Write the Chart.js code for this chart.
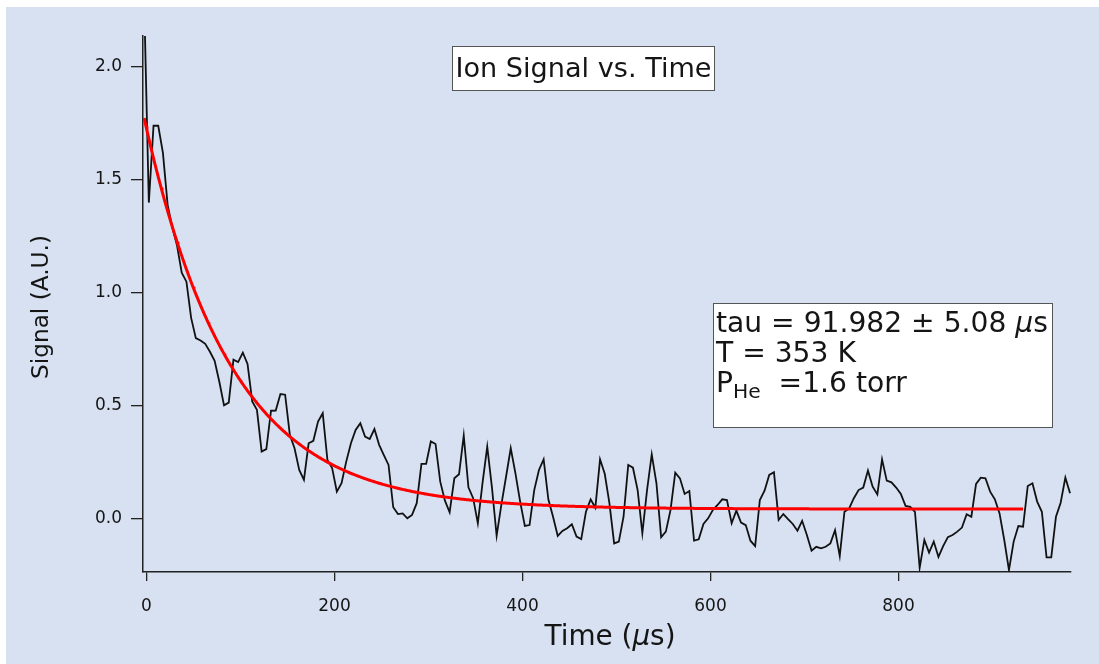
<!DOCTYPE html>
<html>
<head>
<meta charset="utf-8">
<title>Ion Signal vs. Time</title>
<script src="https://cdn.jsdelivr.net/npm/chart.js@4.4.1/dist/chart.umd.min.js"></script>
<style>
  html, body { margin: 0; padding: 0; background: #ffffff; }
  #wrap { width: 1099px; height: 664px; }
</style>
</head>
<body>
<div id="wrap"><canvas id="chart" width="1099" height="664"></canvas></div>
<script>
// Sampling grid of the recorded trace (µs)
const sampleStart = -2.5;
const sampleStep = 5;

// Recorded ion signal (A.U.), one value per sample
const signal = [
  2.30, 1.40, 1.74, 1.74, 1.62, 1.39, 1.29, 1.21, 1.09, 1.05,
  0.89, 0.80, 0.79, 0.775, 0.74, 0.70, 0.607, 0.503, 0.515, 0.705,
  0.694, 0.736, 0.686, 0.52, 0.483, 0.298, 0.309, 0.479, 0.48, 0.553,
  0.55, 0.372, 0.313, 0.217, 0.173, 0.335, 0.346, 0.431, 0.468, 0.261,
  0.225, 0.121, 0.158, 0.254, 0.335, 0.394, 0.424, 0.365, 0.354, 0.398,
  0.328, 0.283, 0.239, 0.052, 0.022, 0.025, 0.003, 0.018, 0.07, 0.244,
  0.244, 0.343, 0.332, 0.165, 0.081, 0.030, 0.180, 0.198, 0.369, 0.140,
  0.092, -0.019, 0.16, 0.32, 0.14, -0.074, 0.062, 0.187, 0.313, 0.202,
  0.077, -0.031, -0.027, 0.128, 0.217, 0.264, 0.087, 0.010, -0.075, -0.053,
  -0.041, -0.023, -0.078, -0.089, 0.032, 0.087, 0.05, 0.264, 0.20, 0.069,
  -0.108, -0.100, 0.010, 0.239, 0.227, 0.128, -0.063, 0.128, 0.286, 0.158,
  -0.081, -0.056, 0.040, 0.205, 0.180, 0.111, 0.124, -0.096, -0.090, -0.022,
  0.003, 0.04, 0.062, 0.087, 0.084, -0.019, 0.037, -0.016, -0.027, -0.096,
  -0.120, 0.084, 0.125, 0.195, 0.207, -0.004, 0.022, -0.001, -0.022, -0.052,
  -0.008, -0.071, -0.140, -0.123, -0.130, -0.123, -0.108, -0.05, -0.164, 0.032,
  0.047, 0.092, 0.128, 0.139, 0.214, 0.143, 0.109, 0.264, 0.170, 0.162,
  0.139, 0.111, 0.058, 0.054, 0.032, -0.216, -0.093, -0.149, -0.100, -0.168,
  -0.12, -0.08, -0.071, -0.056, -0.038, 0.021, 0.010, 0.155, 0.183, 0.180,
  0.121, 0.087, 0.025, -0.093, -0.226, -0.100, -0.031, -0.034, 0.146, 0.158,
  0.077, 0.032, -0.170, -0.170, 0.010, 0.072, 0.183, 0.114
];

// Single-exponential fit: offset + amplitude * exp(-t / tau)
const fitTau = 91.982;
const fitTauErr = 5.08;
const fitAmplitude = 1.684;
const fitOffset = 0.044;
const fitStart = -2.5;
const fitEnd = 932.5;

// Experimental conditions
const temperatureK = 353;
const pressureHeTorr = 1.6;

// Axes
const xTickValues = [0, 200, 400, 600, 800];
const yTickValues = [0.0, 0.5, 1.0, 1.5, 2.0];
const xRange = [-3.7, 983.5];
const yRange = [-0.2345, 2.137];

const FONT = "'DejaVu Sans', 'Liberation Sans', sans-serif";
const BG = '#d7e1f1';
const INK = '#151515';

const tracePoints = signal.map((v, i) => ({ x: sampleStart + i * sampleStep, y: v }));
const fitPoints = [];
for (let t = fitStart; t <= fitEnd + 1e-9; t += 1) {
  fitPoints.push({ x: t, y: fitOffset + fitAmplitude * Math.exp(-t / fitTau) });
}

// text helpers: a line is a list of runs {text, italic, sub}
function runFont(size, run) {
  const s = run.sub ? size * 0.72 : size;
  return (run.italic ? 'italic ' : '') + s.toFixed(2) + 'px ' + FONT;
}
function runsWidth(ctx, runs, size) {
  let w = 0;
  for (const r of runs) { ctx.font = runFont(size, r); w += ctx.measureText(r.text).width; }
  return w;
}
function fitSize(ctx, runs, width, base) {
  return base * width / runsWidth(ctx, runs, base);
}
function drawRuns(ctx, runs, x, y, size) {
  ctx.textBaseline = 'alphabetic';
  ctx.textAlign = 'left';
  for (const r of runs) {
    ctx.font = runFont(size, r);
    ctx.fillText(r.text, x, y + (r.sub ? size * 0.2 : 0));
    x += ctx.measureText(r.text).width;
  }
}

const backdrop = {
  id: 'backdrop',
  beforeDraw(chart) {
    const ctx = chart.ctx;
    ctx.save();
    ctx.fillStyle = '#ffffff';
    ctx.fillRect(0, 0, chart.width, chart.height);
    ctx.fillStyle = BG;
    ctx.fillRect(6, 7, chart.width - 6, chart.height - 7);
    ctx.restore();
  }
};

const annotations = {
  id: 'annotations',
  afterDraw(chart) {
    const ctx = chart.ctx;
    const area = chart.chartArea;
    ctx.save();
    ctx.fillStyle = INK;

    // axis titles
    const yTitle = [{ text: 'Signal (A.U.)' }];
    const ySize = fitSize(ctx, yTitle, 144, 22);
    ctx.save();
    ctx.translate(48, (area.top + area.bottom) / 2 + 3);
    ctx.rotate(-Math.PI / 2);
    drawRuns(ctx, yTitle, -runsWidth(ctx, yTitle, ySize) / 2, 0, ySize);
    ctx.restore();

    const xTitle = [{ text: 'Time (' }, { text: 'μ', italic: true }, { text: 's)' }];
    const xSize = fitSize(ctx, xTitle, 131, 22);
    drawRuns(ctx, xTitle, 610 - runsWidth(ctx, xTitle, xSize) / 2, 645, xSize);

    // title box
    const title = [{ text: 'Ion Signal vs. Time' }];
    const tSize = fitSize(ctx, title, 256, 24);
    ctx.fillStyle = '#ffffff';
    ctx.fillRect(452.5, 46.5, 262, 44);
    ctx.strokeStyle = '#555555';
    ctx.lineWidth = 1;
    ctx.strokeRect(452.5, 46.5, 262, 44);
    ctx.fillStyle = INK;
    drawRuns(ctx, title, 583.5 - runsWidth(ctx, title, tSize) / 2, 77, tSize);

    // fit results box
    const line1 = [{ text: 'tau = ' + fitTau + ' ± ' + fitTauErr + ' ' }, { text: 'μ', italic: true }, { text: 's' }];
    const line2 = [{ text: 'T = ' + temperatureK + ' K' }];
    const line3 = [{ text: 'P' }, { text: 'He', sub: true }, { text: '  =' + pressureHeTorr + ' torr' }];
    const iSize = fitSize(ctx, line1, 332, 24);
    ctx.fillStyle = '#ffffff';
    ctx.fillRect(713.5, 303.5, 339, 124);
    ctx.strokeStyle = '#555555';
    ctx.strokeRect(713.5, 303.5, 339, 124);
    ctx.fillStyle = INK;
    drawRuns(ctx, line1, 716, 332, iSize);
    drawRuns(ctx, line2, 716, 362, iSize);
    drawRuns(ctx, line3, 716, 392, iSize);
    ctx.restore();
  }
};

new Chart(document.getElementById('chart'), {
  type: 'line',
  data: {
    datasets: [
      {
        label: 'fit',
        data: fitPoints,
        borderColor: '#ff0000',
        borderWidth: 3,
        pointRadius: 0,
        tension: 0,
        fill: false,
        order: 0
      },
      {
        label: 'signal',
        data: tracePoints,
        borderColor: '#111111',
        borderWidth: 1.8,
        pointRadius: 0,
        tension: 0,
        fill: false,
        order: 1
      }
    ]
  },
  options: {
    responsive: false,
    animation: false,
    events: [],
    parsing: false,
    layout: { padding: { top: 36, right: 28, left: 0, bottom: 0 } },
    plugins: { legend: { display: false }, tooltip: { enabled: false }, title: { display: false } },
    scales: {
      x: {
        type: 'linear',
        min: xRange[0],
        max: xRange[1],
        afterBuildTicks: s => { s.ticks = xTickValues.map(v => ({ value: v })); },
        afterFit: s => { s.height = 92; },
        grid: { display: true, drawOnChartArea: false, drawTicks: true, tickLength: 9, color: '#222222', lineWidth: 1.3 },
        border: { display: true, color: '#222222', width: 1.5 },
        ticks: {
          autoSkip: false, maxRotation: 0, minRotation: 0, padding: 15,
          color: INK, font: { family: FONT, size: 17 },
          callback: v => String(v)
        }
      },
      y: {
        type: 'linear',
        min: yRange[0],
        max: yRange[1],
        afterBuildTicks: s => { s.ticks = yTickValues.map(v => ({ value: v })); },
        afterFit: s => { s.width = 143; },
        grid: { display: true, drawOnChartArea: false, drawTicks: true, tickLength: 12, color: '#222222', lineWidth: 1.3 },
        border: { display: true, color: '#222222', width: 1.5 },
        ticks: {
          autoSkip: false, padding: 9,
          color: INK, font: { family: FONT, size: 17 },
          callback: v => Number(v).toFixed(1)
        }
      }
    }
  },
  plugins: [backdrop, annotations]
});
</script>
</body>
</html>
